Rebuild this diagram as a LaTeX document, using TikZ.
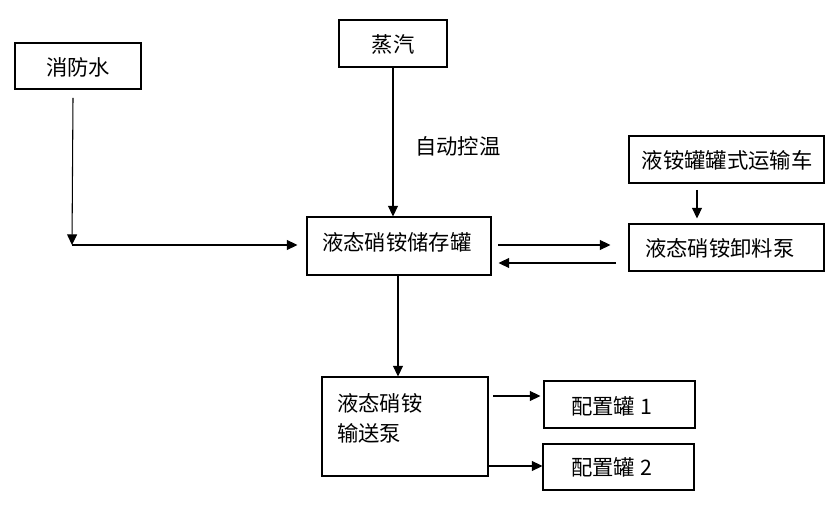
\documentclass[tikz,border=0pt]{standalone}
\usepackage{fontspec}
\setmainfont{Noto Sans CJK SC}
\usetikzlibrary{arrows.meta}
\begin{document}
\begin{tikzpicture}[x=0.75pt,y=-0.75pt,
  box/.style={draw=black,line width=0.8pt,inner sep=0pt,minimum width=#1},
  txt/.style={inner sep=0pt,font=\fontsize{16}{19}\selectfont},
  conn/.style={line width=0.8pt,-{Triangle[length=8pt,width=7.5pt]}},
  line/.style={line width=0.8pt}]
\useasboundingbox (0,0) rectangle (840,505);
% boxes
\node[box=126*0.75pt,minimum height=46*0.75pt] (water) at (78,66) {};
\node[box=108*0.75pt,minimum height=47*0.75pt] (steam) at (393,43.5) {};
\node[box=195*0.75pt,minimum height=47*0.75pt] (truck) at (726.5,159.5) {};
\node[box=184*0.75pt,minimum height=58*0.75pt] (store) at (399,246) {};
\node[box=195*0.75pt,minimum height=47*0.75pt] (unload) at (726.5,247.5) {};
\node[box=166*0.75pt,minimum height=99*0.75pt] (deliv) at (405,426.5) {};
\node[box=151*0.75pt,minimum height=47*0.75pt] (tank1) at (619.5,404.5) {};
\node[box=151*0.75pt,minimum height=46*0.75pt] (tank2) at (618.5,467) {};
% texts
\node[txt] (twater) at (78,67) {消防水};
\node[txt] (tsteam) at (393,44) {蒸汽};
\node[txt] (ttruck) at (727,160) {液铵罐罐式运输车};
\node[txt,anchor=west] (tstore) at (322,242) {液态硝铵储存罐};
\node[txt,anchor=west] (tunload) at (645,248) {液态硝铵卸料泵};
\node[txt,anchor=west] (tdeliv1) at (337,403) {液态硝铵};
\node[txt,anchor=west] (tdeliv2) at (337,433) {输送泵};
\node[txt,anchor=west] (ttank1) at (571,406) {配置罐 1};
\node[txt,anchor=west] (ttank2) at (571,467) {配置罐 2};
\node[txt,anchor=west] (tauto) at (415,146) {自动控温};
% connectors
\coordinate (wstart) at (73,98);
\coordinate (wcorner) at (72,245);
\draw[conn] (wstart) -- (wcorner);
\draw[conn,shorten >=9*0.75pt] (wcorner) -- (wcorner -| store.west);
\draw[conn] (steam.south) -- (steam.south |- store.north);
\coordinate (sdown) at (398,275);
\draw[conn] (sdown) -- (sdown |- deliv.north);
\coordinate (r1) at (498,245);
\draw[conn,shorten >=18*0.75pt] (r1) -- (r1 -| unload.west);
\coordinate (r2) at (616,263);
\draw[conn,shorten >=7*0.75pt] (r2) -- (r2 -| store.east);
\coordinate (td) at (697,190);
\draw[conn,shorten >=5*0.75pt] (td) -- (td |- unload.north);
\coordinate (d1) at (493,396);
\draw[conn,shorten >=3*0.75pt] (d1) -- (d1 -| tank1.west);
\coordinate (d2) at (488,466);
\draw[conn] (d2) -- (d2 -| tank2.west);
\end{tikzpicture}
\end{document}
